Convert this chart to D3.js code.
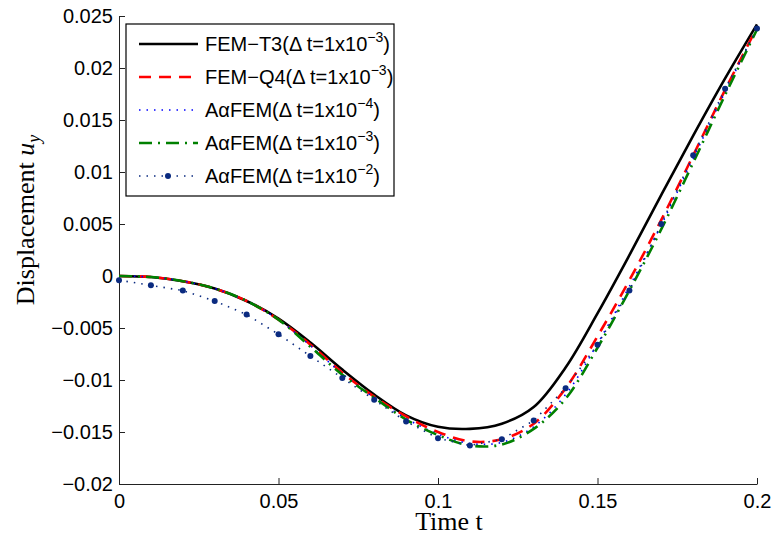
<!DOCTYPE html>
<html>
<head>
<meta charset="utf-8">
<script src="https://cdn.jsdelivr.net/npm/d3@7"></script>
<style>
  body { margin: 0; background: #fff; }
  svg { display: block; }
</style>
</head>
<body>
<svg id="chart" width="774" height="538"></svg>
<script>
// time samples (s)
const times = [0, 0.01, 0.02, 0.03, 0.04, 0.05, 0.06, 0.07, 0.08, 0.09, 0.10,
               0.11, 0.12, 0.13, 0.14, 0.15, 0.16, 0.17, 0.18, 0.19, 0.20];

// displacement u_y
const femT3 = [0, -0.0001, -0.0005, -0.0012, -0.0024, -0.0041, -0.0064, -0.0090, -0.0114, -0.0134, -0.0145,
               -0.0147, -0.0142, -0.0126, -0.0088, -0.0036, 0.0020, 0.0078, 0.0135, 0.0190, 0.0242];
const femQ4 = [0, -0.0001, -0.0005, -0.0012, -0.0024, -0.0042, -0.0066, -0.0093, -0.0116, -0.0135, -0.0150,
               -0.0159, -0.0157, -0.0142, -0.0108, -0.0058, -0.0004, 0.0054, 0.0116, 0.0179, 0.0239];
const afemDt4 = [0, -0.0001, -0.0005, -0.0012, -0.0024, -0.0042, -0.0067, -0.0094, -0.0117, -0.0137, -0.0152,
                 -0.0161, -0.0160, -0.0145, -0.0114, -0.0065, -0.0010, 0.0049, 0.0113, 0.0177, 0.0238];
const afemDt3 = [0, -0.0001, -0.0005, -0.0012, -0.0024, -0.0042, -0.0068, -0.0095, -0.0117, -0.0138, -0.0153,
                 -0.0163, -0.0162, -0.0147, -0.0118, -0.0069, -0.0014, 0.0045, 0.0109, 0.0174, 0.0237];
const afemDt2 = [-0.0004, -0.0009, -0.0014, -0.0024, -0.0037, -0.0056, -0.0077, -0.0098, -0.0119, -0.0140, -0.0156,
                 -0.0163, -0.0157, -0.0139, -0.0108, -0.0066, -0.0014, 0.0050, 0.0116, 0.0180, 0.0238];

const xTicks = [0, 0.05, 0.1, 0.15, 0.2];
const xTickLabels = ['0', '0.05', '0.1', '0.15', '0.2'];
const yTicks = [0.025, 0.02, 0.015, 0.01, 0.005, 0, -0.005, -0.01, -0.015, -0.02];
const yTickLabels = ['0.025', '0.02', '0.015', '0.01', '0.005', '0', '\u22120.005', '\u22120.01', '\u22120.015', '\u22120.02'];

const seriesNames = ['FEM\u2212T3(\u0394 t=1x10', 'FEM\u2212Q4(\u0394 t=1x10', 'A\u03b1FEM(\u0394 t=1x10', 'A\u03b1FEM(\u0394 t=1x10', 'A\u03b1FEM(\u0394 t=1x10'];
const seriesExps = ['\u22123', '\u22123', '\u22124', '\u22123', '\u22122'];

const svg = d3.select('#chart');
const margin = { top: 16, right: 17, bottom: 54, left: 119 };
const width = +svg.attr('width') - margin.left - margin.right;
const height = +svg.attr('height') - margin.top - margin.bottom;

const g = svg.append('g').attr('transform', `translate(${margin.left},${margin.top})`);

const x = d3.scaleLinear().domain([0, 0.2]).range([0, width]);
const y = d3.scaleLinear().domain([-0.02, 0.025]).range([height, 0]);

const styles = [
  { data: femT3, color: '#000000', width: 2.6, dash: null, curve: d3.curveCatmullRom },
  { data: femQ4, color: '#ff0000', width: 2.6, dash: '12,8', curve: d3.curveCatmullRom },
  { data: afemDt4, color: '#0000ff', width: 1.6, dash: '1.5,6', curve: d3.curveCatmullRom },
  { data: afemDt3, color: '#008000', width: 2.6, dash: '13,6,2,6', curve: d3.curveCatmullRom },
  { data: afemDt2, color: '#0b2b80', width: 1.6, dash: '1.5,6', curve: d3.curveLinear, marker: true }
];

// axes
const fontSans = "'Liberation Sans', Arial, sans-serif";
const fontSerif = "'Liberation Serif', 'Times New Roman', serif";

const xAxis = g.append('g').attr('transform', `translate(0,${height})`)
  .call(d3.axisBottom(x).tickValues(xTicks).tickFormat((d, i) => xTickLabels[i])
    .tickSizeInner(-6).tickSizeOuter(0).tickPadding(10));
const yAxis = g.append('g')
  .call(d3.axisLeft(y).tickValues(yTicks).tickFormat((d, i) => yTickLabels[i])
    .tickSizeInner(-6).tickSizeOuter(0).tickPadding(6));

[xAxis, yAxis].forEach(a => {
  a.selectAll('path').attr('stroke', '#222').attr('stroke-width', 1);
  a.selectAll('line').attr('stroke', '#222').attr('stroke-width', 1);
  a.selectAll('text').attr('fill', '#000').style('font-family', fontSans).style('font-size', '20px');
});

// curves
styles.forEach(s => {
  const line = d3.line().x((d, i) => x(times[i])).y(d => y(d)).curve(s.curve);
  g.append('path')
    .datum(s.data)
    .attr('fill', 'none')
    .attr('stroke', s.color)
    .attr('stroke-width', s.width)
    .attr('stroke-dasharray', s.dash)
    .attr('stroke-linecap', 'butt')
    .attr('d', line);
  if (s.marker) {
    g.selectAll(null).data(s.data).enter().append('circle')
      .attr('cx', (d, i) => x(times[i]))
      .attr('cy', d => y(d))
      .attr('r', 3)
      .attr('fill', s.color);
  }
});

// legend
const lg = svg.append('g').attr('transform', 'translate(126,24)');
lg.append('rect').attr('width', 268).attr('height', 172)
  .attr('fill', '#fff').attr('stroke', '#000').attr('stroke-width', 1.2);

styles.forEach((s, i) => {
  const yy = 20 + i * 33;
  lg.append('line')
    .attr('x1', 13).attr('x2', 72).attr('y1', yy).attr('y2', yy)
    .attr('stroke', s.color)
    .attr('stroke-width', s.width)
    .attr('stroke-dasharray', s.dash);
  if (s.marker) {
    lg.append('circle').attr('cx', 42).attr('cy', yy).attr('r', 3).attr('fill', s.color);
  }
  const t = lg.append('text')
    .attr('x', 79).attr('y', yy + 7)
    .style('font-family', fontSans).style('font-size', '20px').attr('fill', '#000');
  t.append('tspan').text(seriesNames[i]);
  t.append('tspan').attr('dy', -9).style('font-size', '14px').text(seriesExps[i]);
  t.append('tspan').attr('dy', 9).text(')');
});

// axis titles
svg.append('text')
  .attr('x', 449).attr('y', 530)
  .attr('text-anchor', 'middle')
  .style('font-family', fontSerif).style('font-size', '26px')
  .text('Time t');

const yl = svg.append('text')
  .attr('transform', 'translate(34,220) rotate(-90)')
  .attr('text-anchor', 'middle')
  .style('font-family', fontSerif).style('font-size', '26px');
yl.append('tspan').text('Displacement ');
yl.append('tspan').style('font-style', 'italic').text('u');
yl.append('tspan').attr('dy', 6).style('font-style', 'italic').style('font-size', '18px').text('y');
</script>
</body>
</html>
